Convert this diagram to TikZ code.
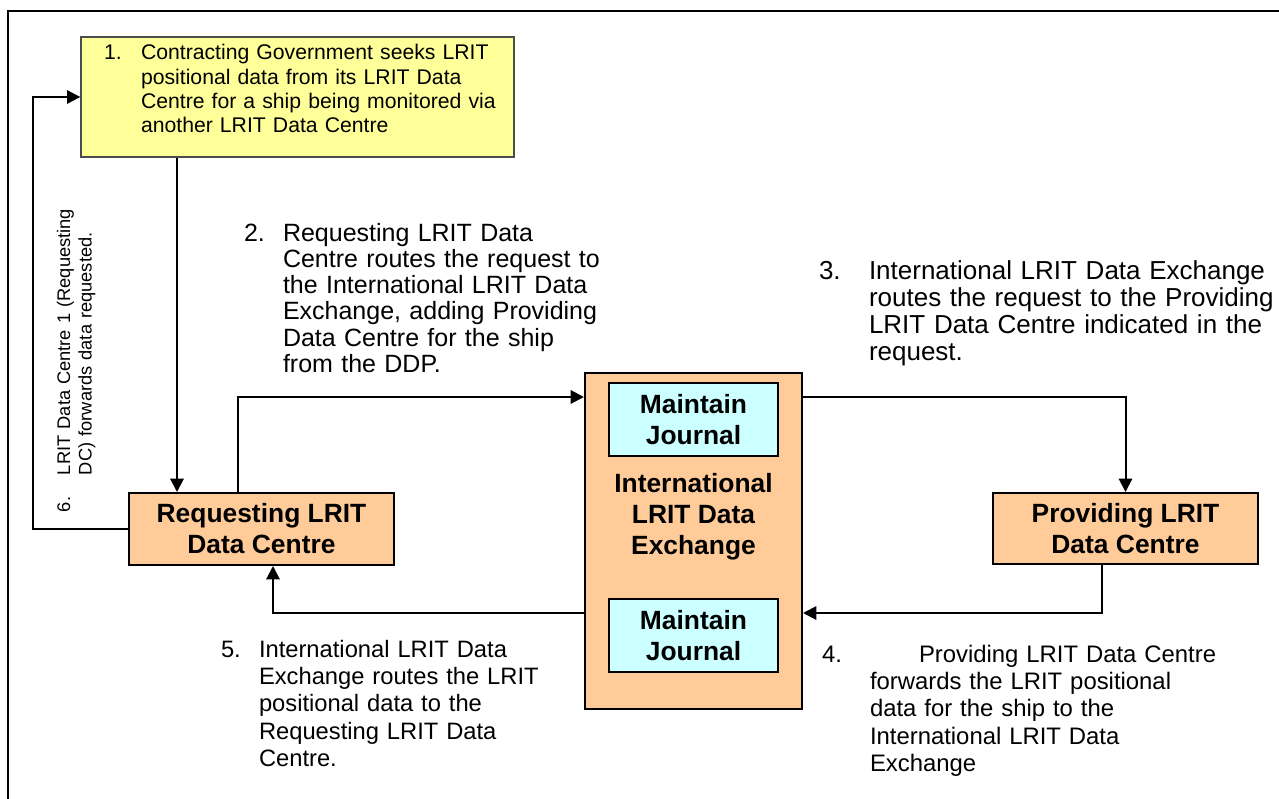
\documentclass[tikz,border=0pt]{standalone}
\usepackage{fontspec}
\setmainfont{Liberation Sans}
\usetikzlibrary{arrows.meta}

\definecolor{lrorange}{HTML}{FFCC99}
\definecolor{lrcyan}{HTML}{CCFFFF}
\definecolor{lryellow}{HTML}{FFFF99}

\tikzset{
  box/.style={draw=black, line width=1.5pt, inner sep=0pt, align=center,
    font=\bfseries\fontsize{19.8}{23.2}\selectfont},
  orangebox/.style={box, fill=lrorange},
  journalbox/.style={box, fill=lrcyan},
  yellowbox/.style={draw=black!70, line width=1pt, fill=lryellow},
  boxtext/.style={inner sep=0pt, align=center, font=\bfseries\fontsize{19.8}{23.2}\selectfont},
  note/.style={anchor=base west, inner sep=0pt, align=left},
}

\begin{document}
\begin{tikzpicture}[x=0.75pt, y=-0.75pt, line width=1.5pt,
  >={Triangle[length=10pt,width=10pt]}]
\useasboundingbox (0,0) rectangle (1279,799);

% kader
\draw (8,799) -- (8,11) -- (1279,11);

% vakken
\node[yellowbox, minimum width=324.75pt, minimum height=90pt] (gov) at (297.5,97) {};
\node[orangebox, minimum width=198.75pt, minimum height=54pt] (req) at (261.5,529) {Requesting LRIT\\Data Centre};
\node[orangebox, minimum width=198.75pt, minimum height=53.25pt] (prov) at (1125.5,528.5) {Providing LRIT\\Data Centre};
\node[orangebox, minimum width=162.75pt, minimum height=252pt] (ide) at (693.5,541) {};
\node[journalbox, minimum width=126.75pt, minimum height=54.75pt] (jtop) at (693.5,419.5) {Maintain\\Journal};
\node[journalbox, minimum width=126.75pt, minimum height=54.75pt] (jbot) at (693.5,635.5) {Maintain\\Journal};
\node[boxtext] (idetext) at (693.5,517) {International\\LRIT Data\\Exchange};

% knikpunten
\coordinate (p1) at (177,0);
\coordinate (p2) at (238,397);
\coordinate (p4) at (1102,613);
\coordinate (p5) at (273,0);
\coordinate (p6) at (33,0);

% verbindingen
\draw[->] (gov.south -| p1) -- (req.north -| p1);
\draw[->] (req.north -| p2) |- (ide.west |- p2);
\draw[->] (ide.east |- p2) -| (prov.north);
\draw[->] (prov.south -| p4) |- (ide.east |- p4);
\draw[->] (ide.west |- p4) -| (req.south -| p5);
\draw[->] (req.west) -- (req.west -| p6) |- (gov.west);

% teksten
\node[note, font=\fontsize{15.9}{18.2}\selectfont] (n1) at (103,60) {1.};
\node[note, font=\fontsize{15.9}{18.2}\selectfont, text width=264.75pt] (t1) at (140,60)
  {\makebox[264.75pt][s]{Contracting Government seeks LRIT}\\
   \makebox[264.75pt][s]{positional data from its LRIT Data}\\
   \makebox[264.75pt][s]{Centre for a ship being monitored via}\\
   another LRIT Data Centre};

\node[note, font=\fontsize{18.75}{19.7}\selectfont] (n2) at (243,241) {2.};
\node[note, font=\fontsize{18.75}{19.7}\selectfont, text width=260pt] (t2) at (282,241)
  {Requesting LRIT Data\\Centre routes the request to\\the International LRIT Data\\
   Exchange, adding Providing\\Data Centre for the ship\\from the DDP.};

\node[note, font=\fontsize{19.5}{20.25}\selectfont] (n3) at (818,279) {3.};
\node[note, font=\fontsize{19.5}{20.25}\selectfont, text width=340pt] (t3) at (868,279)
  {International LRIT Data Exchange\\routes the request to the Providing\\
   LRIT Data Centre indicated in the\\request.};

\node[note, font=\fontsize{17.9}{20.6}\selectfont] (n4) at (821,662) {4.};
\node[note, font=\fontsize{17.9}{20.6}\selectfont, text width=290pt] (t4) at (869,662)
  {\hspace*{36.75pt}Providing LRIT Data Centre\\forwards the LRIT positional\\
   data for the ship to the\\International LRIT Data\\Exchange};

\node[note, font=\fontsize{17.8}{20.6}\selectfont] (n5) at (220,657) {5.};
\node[note, font=\fontsize{17.8}{20.6}\selectfont, text width=250pt] (t5) at (258,657)
  {International LRIT Data\\Exchange routes the LRIT\\positional data to the\\
   Requesting LRIT Data\\Centre.};

\node[note, rotate=90, font=\fontsize{13.7}{16.3}\selectfont] (n6) at (70,513) {6.};
\node[note, rotate=90, font=\fontsize{13.7}{16.3}\selectfont, text width=250pt] (t6) at (70,476)
  {LRIT Data Centre 1 (Requesting\\DC) forwards data requested.};
\end{tikzpicture}
\end{document}
